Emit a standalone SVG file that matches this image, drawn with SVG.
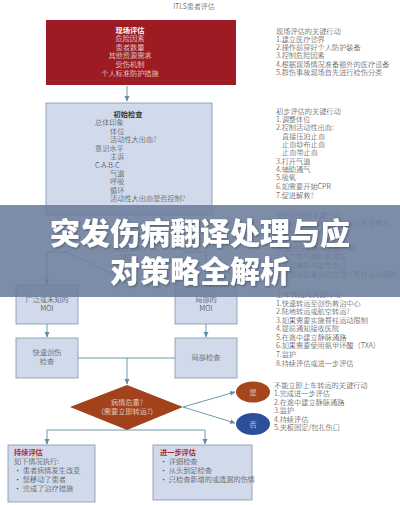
<svg xmlns="http://www.w3.org/2000/svg" width="400" height="505" viewBox="0 0 400 505">
<style>
.t{font-family:"Noto Sans CJK SC","Liberation Sans",sans-serif;font-size:7.2px;font-weight:300;fill:#333333}
.c{text-anchor:middle}
.w{fill:#ffffff}
.b{font-weight:bold}
.r{fill:#b0242a;font-weight:bold}
.box{fill:#d0daeb;stroke:#8193b1;stroke-width:0.8}
.ln{fill:none;stroke:#5f8ea3;stroke-width:0.9}
.ban{font-family:"Noto Sans CJK SC",sans-serif;font-size:30px;font-weight:900;fill:#ffffff;text-anchor:middle}
</style>
<defs>
<marker id="ah" markerWidth="6" markerHeight="6" refX="5" refY="3" orient="auto" markerUnits="userSpaceOnUse">
<path d="M0,0.5 L5.5,3 L0,5.5 z" fill="#5f8ea3"/>
</marker>
<filter id="sh" x="-10%" y="-20%" width="120%" height="140%">
<feDropShadow dx="1" dy="1" stdDeviation="0.8" flood-color="#2f3a4e" flood-opacity="0.6"/>
</filter>
</defs>
<rect width="400" height="505" fill="#ffffff"/>
<text class="t c" x="194" y="9" style="font-size:7px">ITLS患者评估</text>

<g id="connectors">
<path class="ln" d="M127,86 V101" marker-end="url(#ah)"/>
<path class="ln" d="M127,215 V222"/>
<path class="ln" d="M67,252 H47 V284" marker-end="url(#ah)"/>
<path class="ln" d="M187,252 H206 V284" marker-end="url(#ah)"/>
<path class="ln" d="M47,324 V337" marker-end="url(#ah)"/>
<path class="ln" d="M206,324 V337" marker-end="url(#ah)"/>
<path class="ln" d="M78,358 H175"/>
<path class="ln" d="M127,358 V384" marker-end="url(#ah)"/>
<path class="ln" d="M183,407 L235,392" marker-end="url(#ah)"/>
<path class="ln" d="M183,407 L235,423" marker-end="url(#ah)"/>
<path class="ln" d="M47,430 H205"/>
<path class="ln" d="M47,430 V444" marker-end="url(#ah)"/>
<path class="ln" d="M205,430 V444" marker-end="url(#ah)"/>
</g>

<g id="scene">
<rect x="46" y="20" width="190" height="65" fill="#9d1c23"/>
<text class="t c w b" x="130" y="33">现场评估</text>
<text class="t c w" x="130" y="41">危险因素</text>
<text class="t c w" x="130" y="50">患者数量</text>
<text class="t c w" x="130" y="58">其他资源需求</text>
<text class="t c w" x="130" y="67">受伤机制</text>
<text class="t c w" x="130" y="76">个人标准防护措施</text>
</g>

<g id="scene-actions">
<text class="t" x="276" y="34">现场评估的关键行动</text>
<text class="t" x="276" y="42">1.建立医疗诊界</text>
<text class="t" x="276" y="50">2.操作前穿好个人防护装备</text>
<text class="t" x="276" y="58">3.控制危险因素</text>
<text class="t" x="276" y="67">4.根据现场情况准备额外的医疗设备</text>
<text class="t" x="276" y="75">5.群伤事故现场首先进行检伤分类</text>
</g>

<g id="initial">
<rect class="box" x="46" y="103" width="166" height="112"/>
<text class="t c b" x="128" y="117">初始检查</text>
<text class="t" x="95" y="125">总体印象</text>
<text class="t" x="110" y="134">体位</text>
<text class="t" x="110" y="142">活动性大出血?</text>
<text class="t" x="95" y="151">意识水平</text>
<text class="t" x="110" y="159">主诉</text>
<text class="t" x="95" y="168">C-A-B-C</text>
<text class="t" x="110" y="176">气道</text>
<text class="t" x="110" y="184">呼吸</text>
<text class="t" x="110" y="193">循环</text>
<text class="t" x="110" y="201">活动性大出血是否控制?</text>
</g>

<g id="initial-actions">
<text class="t" x="276" y="114">初步评估的关键行动</text>
<text class="t" x="276" y="122">1.调整体位</text>
<text class="t" x="276" y="130">2.控制活动性出血:</text>
<text class="t" x="282" y="139">直接压迫止血</text>
<text class="t" x="282" y="147">止血纱布止血</text>
<text class="t" x="282" y="155">止血带止血</text>
<text class="t" x="276" y="164">3.打开气道</text>
<text class="t" x="276" y="172">4.辅助通气</text>
<text class="t" x="276" y="180">5.吸氧</text>
<text class="t" x="276" y="189">6.如需要开始CPR</text>
<text class="t" x="276" y="198">7.促进解救?</text>
</g>

<g id="moi-decision">
<polygon points="127,223 187,252 127,281 67,252" fill="#ffffff" stroke="#8193b1" stroke-width="0.8"/>
<text class="t c" x="127" y="251">受伤机制?</text>
<text class="t c" x="127" y="260">(MOI)</text>
</g>

<g id="moi-actions">
<text class="t" x="276" y="218">受伤机制的关键行动</text>
<text class="t" x="276" y="226">1.根据受伤机制判断是否为危急情况</text>
<text class="t" x="276" y="234">2.决定检查方式</text>
<text class="t" x="276" y="251">快速创伤检查的关键行动</text>
<text class="t" x="276" y="259">1.张力性气胸针刺减压</text>
<text class="t" x="276" y="268">2.密封胸部开放性伤口</text>
<text class="t" x="276" y="277">3.头颈部如果合适应进行脊柱运动限制</text>
</g>

<g id="moi-wide">
<rect class="box" x="16" y="285" width="62" height="39"/>
<text class="t c" x="47" y="302">广泛或未知的</text>
<text class="t c" x="47" y="311">MOI</text>
</g>

<g id="moi-local">
<rect class="box" x="175" y="285" width="62" height="39"/>
<text class="t c" x="206" y="302">局部的</text>
<text class="t c" x="206" y="311">MOI</text>
</g>

<g id="rapid-exam">
<rect class="box" x="16" y="338" width="62" height="40"/>
<text class="t c" x="47" y="355">快速创伤</text>
<text class="t c" x="47" y="364">检查</text>
</g>

<g id="local-exam">
<rect class="box" x="175" y="338" width="62" height="40"/>
<text class="t c" x="206" y="360">局部检查</text>
</g>

<g id="transport-actions">
<text class="t" x="276" y="297">上车转运的关键行动</text>
<text class="t" x="276" y="306">1.快速转运至创伤救治中心</text>
<text class="t" x="276" y="314">2.陆地转运或航空转运?</text>
<text class="t" x="276" y="323">3.如果需要实施脊柱运动限制</text>
<text class="t" x="276" y="331">4.提前通知接收医院</text>
<text class="t" x="276" y="340">5.在途中建立静脉通路</text>
<text class="t" x="276" y="348">6.如果需要使用氨甲环酸（TXA）</text>
<text class="t" x="276" y="357">7.监护</text>
<text class="t" x="276" y="366">8.持续评估或进一步评估</text>
</g>

<g id="critical">
<polygon points="127,385 183,407 127,430 70,407" fill="#a2421d"/>
<text class="t c w" x="127" y="405">病情危重?</text>
<text class="t c w" x="127" y="414">（需要立即转运?）</text>
</g>

<g id="yes">
<ellipse cx="253" cy="392" rx="17" ry="10.5" fill="#a5461d"/>
<text class="t c w" x="253" y="394.5">是</text>
</g>

<g id="no">
<ellipse cx="253" cy="424" rx="17" ry="11" fill="#2b4f9b"/>
<text class="t c w" x="253" y="426.5">否</text>
</g>

<g id="delay-actions">
<text class="t" x="274" y="388">不能立即上车转运的关键行动</text>
<text class="t" x="274" y="396">1.完成进一步评估</text>
<text class="t" x="274" y="405">2.在途中建立静脉通路</text>
<text class="t" x="274" y="413">3.监护</text>
<text class="t" x="274" y="422">4.持续评估</text>
<text class="t" x="274" y="430">5.夹板固定/包扎伤口</text>
</g>

<g id="ongoing">
<rect class="box" x="8" y="445" width="87" height="57"/>
<text class="t r" x="14" y="455">持续评估</text>
<text class="t" x="14" y="464">如下情况执行:</text>
<text class="t" x="14" y="473">· 患者病情发生改变</text>
<text class="t" x="14" y="482">· 您移动了患者</text>
<text class="t" x="14" y="491">· 完成了治疗措施</text>
</g>

<g id="detailed">
<rect class="box" x="153" y="445" width="99" height="55"/>
<text class="t r" x="160" y="455">进一步评估</text>
<text class="t" x="160" y="464">· 详细检查</text>
<text class="t" x="160" y="473">· 从头到足检查</text>
<text class="t" x="160" y="482">· 只检查新增的或遗漏的伤情</text>
</g>

<g id="banner">
<rect x="0" y="205" width="400" height="92" fill="#6b7d9b" opacity="0.88"/>
<text class="ban" x="200" y="244" filter="url(#sh)">突发伤病翻译处理与应</text>
<text class="ban" x="200" y="282" filter="url(#sh)">对策略全解析</text>
</g>
</svg>
